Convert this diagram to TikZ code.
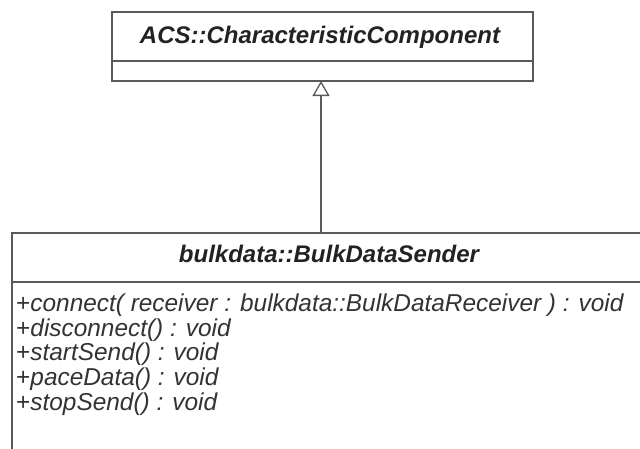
\documentclass[tikz,border=0pt]{standalone}
\usepackage{fontspec}
\setmainfont{Liberation Sans}
\usetikzlibrary{arrows.meta}
\definecolor{linec}{HTML}{5A5A5A}
\definecolor{txtc}{HTML}{222222}
\definecolor{opc}{HTML}{333333}
\tikzset{
  classbox/.style={draw=linec, line width=1.3pt, fill=white, inner sep=0pt},
  sepline/.style={draw=linec, line width=1.3pt},
  title/.style={font=\fontsize{24}{26}\selectfont\bfseries\itshape, text=txtc, inner sep=0pt, anchor=base},
  op/.style={font=\fontsize{24.4}{26}\selectfont\itshape, text=opc, inner sep=0pt, anchor=base west},
  inherit/.style={draw=linec, line width=1.3pt, -{Triangle[open, width=17pt, length=15pt, line width=1.3pt]}}
}
\newcommand{\pl}{{\upshape+}}
\begin{document}
\begin{tikzpicture}[x=1pt, y=-1pt]
\useasboundingbox (0,0) rectangle (640,448);
\clip (0,0) rectangle (640,448);
\fill[white] (0,0) rectangle (640,448);
% top class
\node[classbox, minimum width=421pt, minimum height=69pt] (top) at (322.5,46.5) {};
\draw[sepline] (112,61) -- (533,61);
\node[title] (toptitle) at (320,43) {ACS::CharacteristicComponent};
% bottom class
\node[classbox, minimum width=650pt, minimum height=240pt] (bot) at (337,353) {};
\draw[sepline] (12,282) -- (660,282);
\node[title] (bottitle) at (329,262) {bulkdata::BulkDataSender};
\node[op] (o1) at (16,311.5) {\pl connect( receiver : bulkdata::BulkDataReceiver ) : void};
\node[op] (o2) at (16,336) {\pl disconnect() : void};
\node[op] (o3) at (16,360.5) {\pl startSend() : void};
\node[op] (o4) at (16,385.5) {\pl paceData() : void};
\node[op] (o5) at (16,410.5) {\pl stopSend() : void};
% generalization
\coordinate (a) at (321,233);
\coordinate (b) at (321,81);
\draw[inherit] (a) -- (b);
\end{tikzpicture}
\end{document}
